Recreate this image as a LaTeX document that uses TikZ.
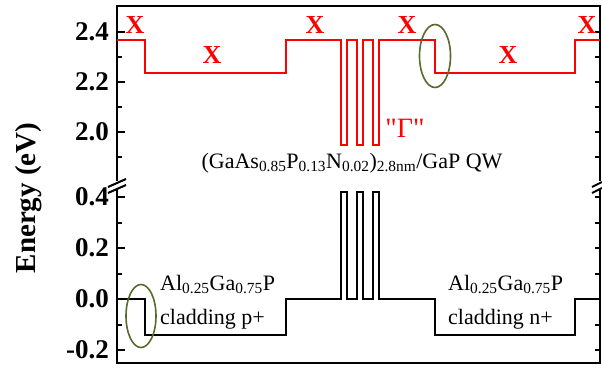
\documentclass[tikz,border=0pt]{standalone}
\usepackage{fontspec}
\setmainfont{Liberation Serif}
\usetikzlibrary{calc}
\definecolor{ringolive}{RGB}{88,107,47}
\tikzset{
    frame_line/.style={line width=2pt, black},
    band_red/.style={line width=2pt, red},
    band_black/.style={line width=2pt, black},
    ring/.style={line width=1.6pt, ringolive},
    tick_label/.style={font=\fontsize{27}{27}\selectfont\bfseries, anchor=east, inner sep=0pt},
    valley_label/.style={font=\fontsize{26}{26}\selectfont\bfseries, text=red, inner sep=0pt},
    text_label/.style={font=\fontsize{22}{22}\selectfont, inner sep=0pt, anchor=base west}
}

\begin{document}
\begin{tikzpicture}[x=1pt, y=1pt]
        \path[fill=white] (0,0) rectangle (602,-369);
        \useasboundingbox (0,0) rectangle (602,-369);
        % upper panel: X band
        \begin{scope}[y=250pt, yshift=-632pt]
        \draw[frame_line] (117,1.805) -- (117,2.504) -- (600,2.504) -- (600,1.805);
        \foreach \e [count=\k] in {2.0,2.2,2.4} {
            \draw[frame_line] (117,\e) -- ++(8pt,0);
            \draw[frame_line] (600,\e) -- ++(-5pt,0);
            \node[tick_label] (up\k) at (109,\e) {\e};
        }
        \foreach \e in {1.9,2.1,2.3} {
            \draw[frame_line] (117,\e) -- ++(5pt,0);
            \draw[frame_line] (600,\e) -- ++(-5pt,0);
        }
        \draw[band_red] (117,2.37) -- (145,2.37) -- (145,2.236) -- (286,2.236) -- (286,2.37)
            \foreach \wx in {341,357,373} { -- (\wx,2.37) -- (\wx,1.95) -- (\wx+5.5,1.95) -- (\wx+5.5,2.37) }
            -- (435,2.37) -- (435,2.236) -- (575,2.236) -- (575,2.37) -- (600,2.37);
        \end{scope}
        % lower panel: valence band
        \begin{scope}[y=255pt, yshift=-299pt]
        \draw[frame_line] (117,0.427) -- (117,-0.251) -- (600,-0.251) -- (600,0.427);
        \foreach \e [count=\k] in {-0.2,0.0,0.2,0.4} {
            \draw[frame_line] (117,\e) -- ++(8pt,0);
            \draw[frame_line] (600,\e) -- ++(-5pt,0);
            \node[tick_label] (lo\k) at (109,\e) {\e};
        }
        \foreach \e in {-0.1,0.1,0.3} {
            \draw[frame_line] (117,\e) -- ++(5pt,0);
            \draw[frame_line] (600,\e) -- ++(-5pt,0);
        }
        \draw[band_black] (117,0) -- (145,0) -- (145,-0.14) -- (286,-0.14) -- (286,0)
            \foreach \wx in {341,357,373} { -- (\wx,0) -- (\wx,0.42) -- (\wx+5.5,0.42) -- (\wx+5.5,0) }
            -- (435,0) -- (435,-0.14) -- (575,-0.14) -- (575,0) -- (600,0);
        \end{scope}
        % axis breaks
        \draw[frame_line] (108,-187) -- (126,-179);
        \draw[frame_line] (108,-193) -- (126,-185);
        \draw[frame_line] (592,-187) -- (602,-182);
        \draw[frame_line] (592,-193) -- (602,-188);
        % marked band offsets
        \draw[ring] (435,-56) ellipse [x radius=15.5pt, y radius=31.5pt];
        \draw[ring] (141,-316) ellipse [x radius=15pt, y radius=31.5pt];
        % labels
        \foreach \x/\y [count=\k] in {135/-25, 212/-55, 315/-25, 407/-25, 508/-55, 587/-25}
            \node[valley_label] (xv\k) at (\x,\y) {X};
        \node[font=\fontsize{28}{28}\selectfont, text=red, inner sep=0pt] (gamma) at (405,-128) {\textquotedbl Γ\textquotedbl};
        \node[text_label, anchor=base] (qw) at (352,-168)
            {(GaAs\textsubscript{0.85}P\textsubscript{0.13}N\textsubscript{0.02})\textsubscript{2.8nm}/GaP QW};
        \node[text_label] (clp1) at (160,-290) {Al\textsubscript{0.25}Ga\textsubscript{0.75}P};
        \node[text_label] (clp2) at (160,-324) {cladding p+};
        \node[text_label] (cln1) at (448,-290) {Al\textsubscript{0.25}Ga\textsubscript{0.75}P};
        \node[text_label] (cln2) at (448,-324) {cladding n+};
        \node[rotate=90, anchor=base, inner sep=0pt, font=\fontsize{29}{29}\selectfont\bfseries] (ytitle) at (35,-198) {Energy (eV)};
    \end{tikzpicture}
\end{document}
